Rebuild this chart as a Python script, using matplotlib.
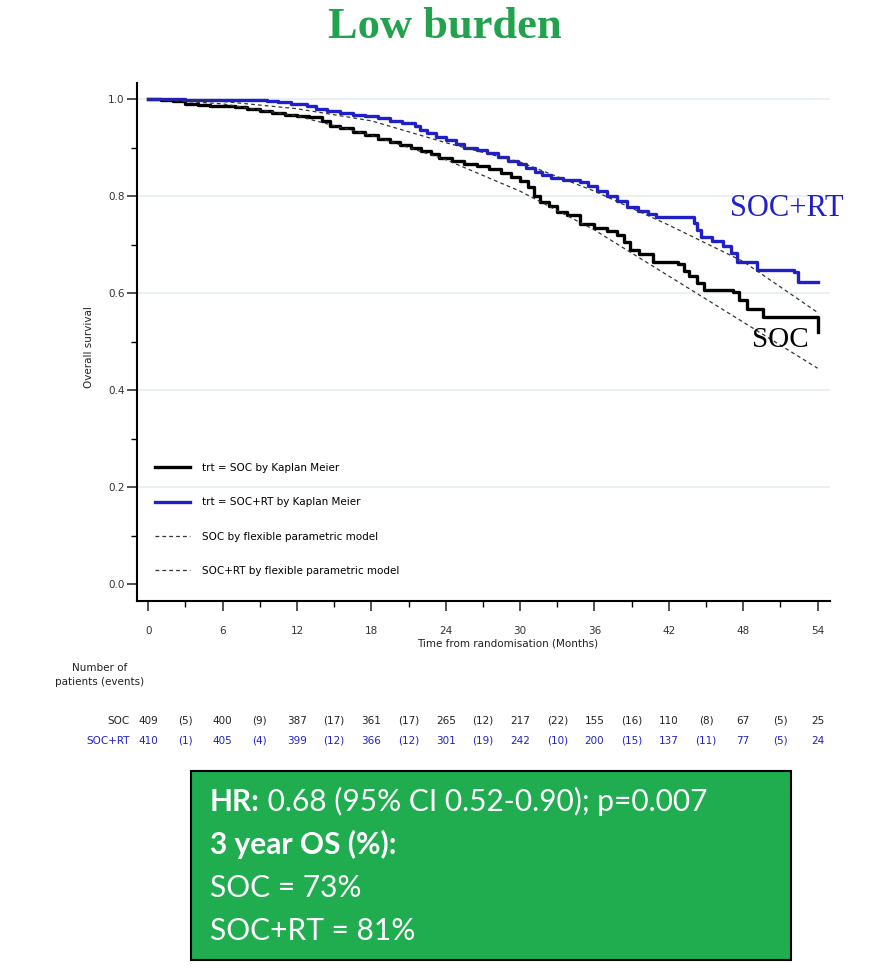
import numpy as np
import matplotlib
matplotlib.use('Agg')
import matplotlib.pyplot as plt
import matplotlib.transforms as mtransforms
from matplotlib.patches import Rectangle
from matplotlib.ticker import MultipleLocator

# Kaplan-Meier steps (months, survival)
soc_t = [0, 1, 2, 3, 4, 5, 7, 8, 9, 10, 11, 12, 13, 14, 14.7, 15.5, 16.5, 17.5, 18.5, 19.5,
         20.3, 21.2, 22, 22.8, 23.5, 24.5, 25.5, 26.5, 27.5, 28.5, 29.3, 30, 30.6, 31.1, 31.6,
         32.3, 33, 33.8, 34.8, 36, 37, 37.8, 38.4, 38.9, 39.6, 40.7, 42.7, 43.2, 43.6, 44.3,
         44.8, 47.2, 47.7, 48.3, 49.6, 53.95, 54]
soc_s = [1.0, 0.998, 0.995, 0.99, 0.988, 0.986, 0.984, 0.98, 0.976, 0.972, 0.968, 0.965, 0.962,
         0.955, 0.945, 0.94, 0.932, 0.925, 0.918, 0.912, 0.905, 0.898, 0.893, 0.886, 0.878,
         0.872, 0.866, 0.862, 0.855, 0.848, 0.84, 0.83, 0.818, 0.8, 0.788, 0.78, 0.768, 0.76,
         0.742, 0.735, 0.728, 0.72, 0.705, 0.688, 0.68, 0.665, 0.66, 0.645, 0.635, 0.62, 0.607,
         0.602, 0.585, 0.567, 0.55, 0.55, 0.52]

rt_t = [0, 1.5, 3, 9.6, 10.5, 11.5, 12.8, 13.5, 14.4, 15.5, 16.5, 17.5, 18.5, 19.5, 20.5, 21.5,
        21.9, 22.5, 23.2, 24, 24.8, 25.5, 26.5, 27.3, 28.2, 29, 29.8, 30.5, 31.2, 31.8, 32.5,
        33.5, 34.8, 35.5, 36.2, 37, 37.8, 38.6, 39.5, 40.3, 41, 44, 44.3, 44.6, 45.5, 46.4, 47,
        47.5, 49.1, 52.1, 52.4, 54]
rt_s = [1.0, 0.999, 0.998, 0.996, 0.994, 0.99, 0.985, 0.98, 0.976, 0.972, 0.968, 0.964, 0.96,
        0.955, 0.95, 0.944, 0.937, 0.93, 0.922, 0.915, 0.907, 0.9, 0.895, 0.888, 0.88, 0.873,
        0.866, 0.858, 0.85, 0.843, 0.838, 0.833, 0.828, 0.82, 0.81, 0.8, 0.79, 0.778, 0.77,
        0.763, 0.757, 0.744, 0.73, 0.715, 0.708, 0.697, 0.683, 0.665, 0.648, 0.643, 0.622, 0.622]

# flexible parametric model curves
fpm_t = [0, 6, 12, 18, 24, 30, 36, 42, 48, 54]
fpm_soc = [1.0, 0.99, 0.965, 0.925, 0.875, 0.81, 0.73, 0.635, 0.54, 0.445]
fpm_rt = [1.0, 0.995, 0.98, 0.955, 0.91, 0.87, 0.81, 0.74, 0.665, 0.56]

# number at risk table
risk_t = [0, 6, 12, 18, 24, 30, 36, 42, 48, 54]
soc_at_risk = [409, 400, 387, 361, 265, 217, 155, 110, 67, 25]
soc_events = [5, 9, 17, 17, 12, 22, 16, 8, 5]
rt_at_risk = [410, 405, 399, 366, 301, 242, 200, 137, 77, 24]
rt_events = [1, 4, 12, 12, 19, 10, 15, 11, 5]

blue = '#2020c8'
green_title = '#22a24c'
green_box = '#1fad4f'

fig = plt.figure(figsize=(8.7, 9.8), dpi=100)
ax = fig.add_axes([0.1575, 0.3867, 0.7965, 0.5286])

for y in [0.2, 0.4, 0.6, 0.8, 1.0]:
    ax.axhline(y, color='#e4edf1', lw=1.2, zorder=0)

ax.plot(soc_t, soc_s, drawstyle='steps-post', color='black', lw=2.4, label='trt = SOC by Kaplan Meier')
ax.plot(rt_t, rt_s, drawstyle='steps-post', color=blue, lw=2.4, label='trt = SOC+RT by Kaplan Meier')
ax.plot(fpm_t, fpm_soc, color='#333333', lw=0.9, ls=(0, (3, 2.5)), label='SOC by flexible parametric model')
ax.plot(fpm_t, fpm_rt, color='#333333', lw=0.9, ls=(0, (3, 2.5)), label='SOC+RT by flexible parametric model')

ax.set_xlim(-0.9, 55)
ax.set_ylim(-0.035, 1.033)
for s in ['top', 'right']:
    ax.spines[s].set_visible(False)
ax.spines['left'].set_linewidth(1.5)
ax.spines['bottom'].set_linewidth(1.5)

ax.xaxis.set_major_locator(MultipleLocator(6))
ax.xaxis.set_minor_locator(MultipleLocator(3))
ax.yaxis.set_major_locator(MultipleLocator(0.2))
ax.yaxis.set_minor_locator(MultipleLocator(0.1))
ax.yaxis.set_major_formatter(matplotlib.ticker.FormatStrFormatter('%.1f'))
ax.tick_params(axis='both', which='major', length=7, width=1.2, labelsize=7.5, colors='#333333')
ax.tick_params(axis='both', which='minor', length=4, width=1.0)
ax.tick_params(axis='x', which='major', pad=11)
ax.tick_params(axis='y', which='major', pad=2)

ax.set_xlabel('Time from randomisation (Months)', fontsize=7.5, color='#222222')
ax.xaxis.set_label_coords(0.535, -0.072)
ax.set_ylabel('Overall survival', fontsize=7.5, color='#222222')
ax.yaxis.set_label_coords(-0.062, 0.49)

ax.legend(loc='lower left', bbox_to_anchor=(0.012, 0.03), frameon=False, fontsize=7.5,
          handlelength=3.4, handletextpad=1.1, labelspacing=2.35)

ax.text(46.9, 0.775, 'SOC+RT', color=blue, fontsize=22, family='Liberation Serif', va='center')
ax.text(48.7, 0.503, 'SOC', color='black', fontsize=21, family='Liberation Serif', va='center')

fig.text(0.511, 0.972, 'Low burden', ha='center', va='center', color=green_title,
         fontsize=32, fontweight='bold', family='Liberation Serif')

# risk table
tr = mtransforms.blended_transform_factory(ax.transData, fig.transFigure)
fig.text(0.115, 0.311, 'Number of\npatients (events)', ha='center', va='center', fontsize=7.5,
         color='#222222', linespacing=1.5)
row_y = [0.2643, 0.2439]
rows = [('SOC', soc_at_risk, soc_events, '#222222'), ('SOC+RT', rt_at_risk, rt_events, blue)]
for yy, (name, nr, ev, c) in zip(row_y, rows):
    ax.text(-1.5, yy, name, transform=tr, ha='right', va='center', fontsize=7.5, color=c)
    for t, n in zip(risk_t, nr):
        ax.text(t, yy, str(n), transform=tr, ha='center', va='center', fontsize=7.5, color=c)
    for i, e in enumerate(ev):
        ax.text(risk_t[i] + 3, yy, '(%d)' % e, transform=tr, ha='center', va='center', fontsize=7.5, color=c)

# summary box
bg = fig.add_axes([0, 0, 1, 1], zorder=-1)
bg.set_xlim(0, 870)
bg.set_ylim(980, 0)
bg.axis('off')
bg.add_patch(Rectangle((191, 771), 600, 189, facecolor=green_box, edgecolor='black', lw=1.5))
fs = 21.5
fam = 'Lato'
t1 = bg.text(210, 811, 'HR:', color='white', fontsize=fs, fontweight='bold', family=fam, va='baseline')
bg.annotate(' 0.68 (95% CI 0.52-0.90); p=0.007', xy=(1, 0), xycoords=t1, va='bottom',
            color='white', fontsize=fs, family=fam)
bg.text(210, 854, '3 year OS (%):', color='white', fontsize=fs, fontweight='bold', family=fam, va='baseline')
bg.text(210, 897, 'SOC = 73%', color='white', fontsize=fs, family=fam, va='baseline')
bg.text(210, 940, 'SOC+RT = 81%', color='white', fontsize=fs, family=fam, va='baseline')

fig.savefig('out.png', dpi=100)
